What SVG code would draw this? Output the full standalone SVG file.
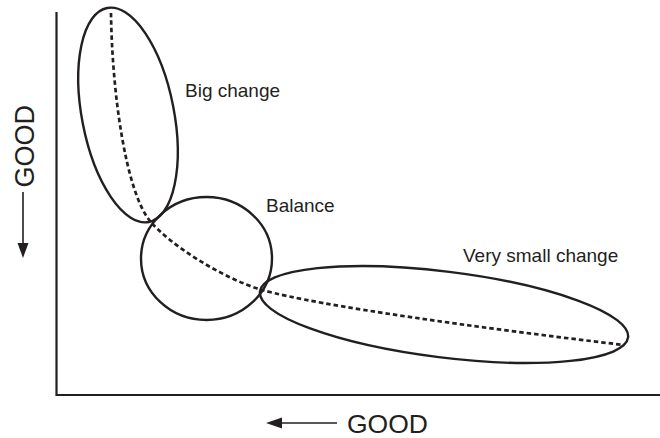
<svg xmlns="http://www.w3.org/2000/svg" width="660" height="438" viewBox="0 0 660 438">
  <style>
    .axis { stroke: #231f20; stroke-width: 2.2; fill: none; }
    .region { stroke: #231f20; stroke-width: 2.4; fill: none; }
    .trend { stroke: #231f20; stroke-width: 2.7; fill: none; stroke-dasharray: 4.5 3; }
    .label { font-family: "Liberation Sans", Arial, sans-serif; font-size: 19px; fill: #231f20; }
    .axis-label { font-family: "Liberation Sans", Arial, sans-serif; fill: #231f20; }
    .arrow-line { stroke: #231f20; stroke-width: 1.6; }
    .arrow-head { fill: #231f20; }
  </style>

  <!-- axes -->
  <g id="axes">
    <path class="axis" d="M56.5,12 V395 H660"/>
  </g>

  <!-- regions along the trade-off curve -->
  <g id="big-change">
    <ellipse class="region" cx="128" cy="115" rx="46" ry="109" transform="rotate(-11 128 115)"/>
    <text class="label" x="185" y="97">Big change</text>
  </g>

  <g id="balance">
    <ellipse class="region" cx="206.5" cy="258.5" rx="65.5" ry="61.5"/>
    <text class="label" x="266" y="212">Balance</text>
  </g>

  <g id="very-small-change">
    <ellipse class="region" cx="444" cy="314.5" rx="185.5" ry="43" transform="rotate(7.1 444 314.5)"/>
    <text class="label" x="463" y="262">Very small change</text>
  </g>

  <!-- connectors: dashed trade-off curve -->
  <g id="connectors">
    <path class="trend" d="M111,13 C112,90 125,190 150,221 C170,245 222,278 262,290 C320,306 480,328 624,345"/>
  </g>

  <!-- axis direction labels -->
  <g id="y-label">
    <text class="axis-label" font-size="27" transform="translate(33.5 187.5) rotate(-90)">GOOD</text>
    <line class="arrow-line" x1="23" y1="192" x2="23" y2="248"/>
    <polygon class="arrow-head" points="23,258 17.5,243 28.5,243"/>
  </g>

  <g id="x-label">
    <text class="axis-label" font-size="26.5" x="347" y="433">GOOD</text>
    <line class="arrow-line" x1="276" y1="423" x2="337" y2="423"/>
    <polygon class="arrow-head" points="266,423 282,417.5 282,428.5"/>
  </g>
</svg>
